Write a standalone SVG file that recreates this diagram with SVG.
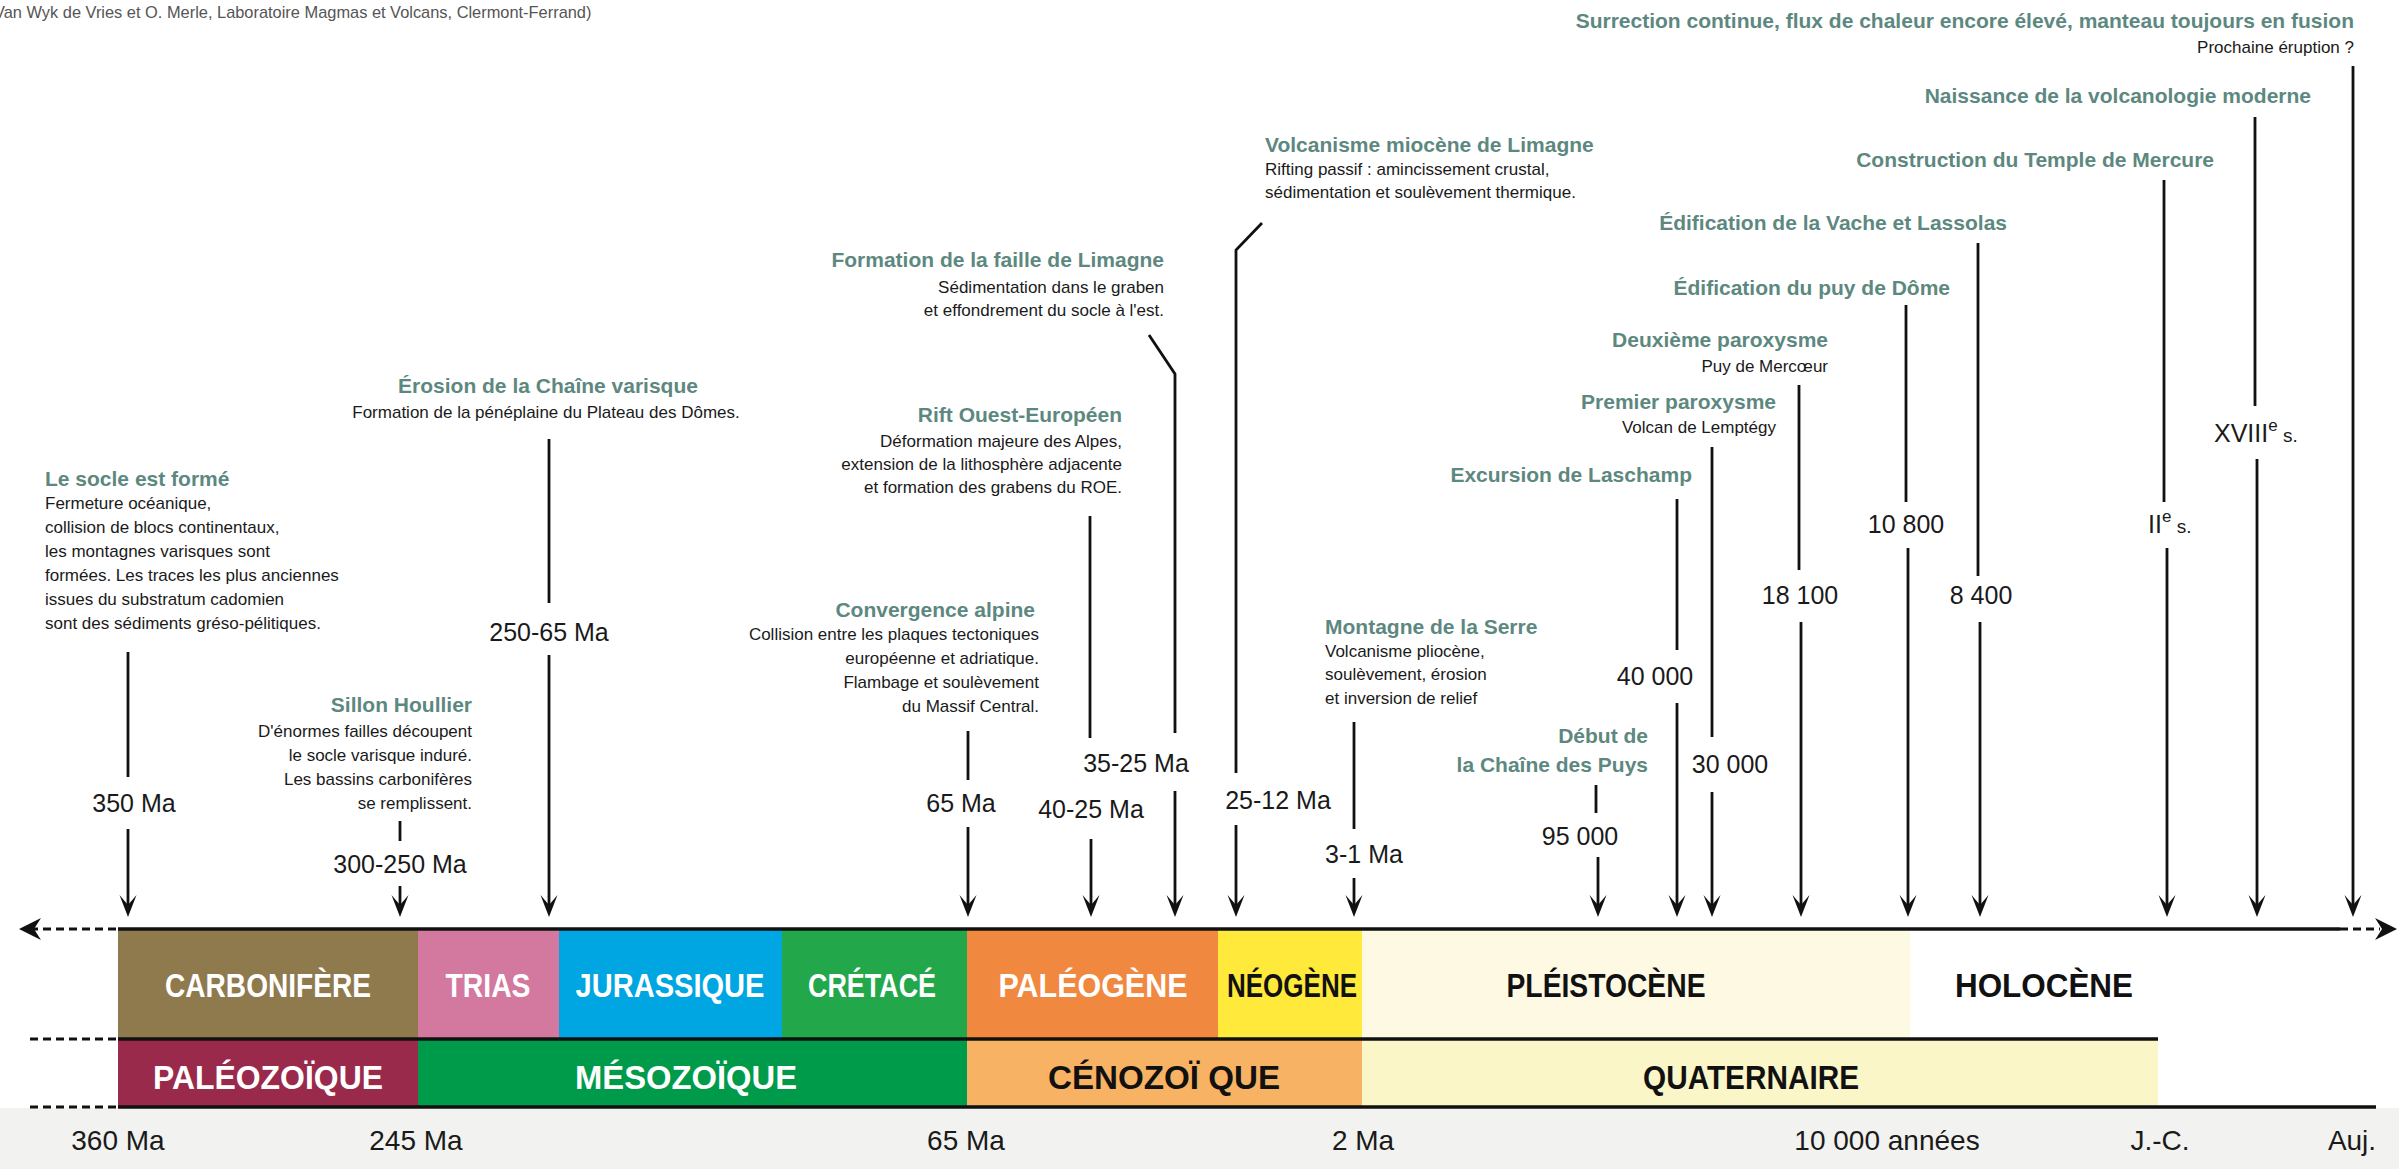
<svg xmlns="http://www.w3.org/2000/svg" width="2399" height="1169" viewBox="0 0 2399 1169">
<style>
text{font-family:"Liberation Sans",Arial,sans-serif}
.h{font-size:21px;font-weight:bold;fill:#5d887f}
.b{font-size:17px;fill:#1a1a1a}
.d{font-size:25px;fill:#1a1a1a;text-anchor:middle}
.r{text-anchor:end}
.m{text-anchor:middle}
.p{font-size:34px;font-weight:bold;text-anchor:middle}
.w{fill:#ffffff}
.k{fill:#111111}
.ax{font-size:28px;fill:#1a1a1a;text-anchor:middle}
.ln{stroke:#111;stroke-width:2.8;fill:none}
.dash{stroke:#111;stroke-width:3;stroke-dasharray:8 5;fill:none}
.sep{stroke:#111;stroke-width:3.5;fill:none}
.cr{font-size:16.4px;fill:#555}
</style>
<defs>
<marker id="ah" markerUnits="userSpaceOnUse" markerWidth="24" markerHeight="24" refX="17" refY="12" orient="auto">
<path d="M22,12 L0,3.5 L10,12 L0,20.5 Z" fill="#111"/>
</marker>
</defs>

<rect x="0" y="1108" width="2399" height="61" fill="#f2f2f0"/>
<text class="cr" x="-6" y="18">Van Wyk de Vries et O. Merle, Laboratoire Magmas et Volcans, Clermont-Ferrand)</text>

<g id="timeline">
<g id="periods">
<rect x="118" y="929" width="300" height="110" fill="#8f7a4e"/>
<rect x="418" y="929" width="141" height="110" fill="#d3789f"/>
<rect x="559" y="929" width="223" height="110" fill="#00a6e2"/>
<rect x="782" y="929" width="185" height="110" fill="#22a84b"/>
<rect x="967" y="929" width="251" height="110" fill="#f1883f"/>
<rect x="1218" y="929" width="144" height="110" fill="#ffe93b"/>
<rect x="1362" y="929" width="548" height="110" fill="#fdf9e3"/>
<text class="p w" x="268" y="997" textLength="206" lengthAdjust="spacingAndGlyphs">CARBONIFÈRE</text>
<text class="p w" x="488" y="997" textLength="85" lengthAdjust="spacingAndGlyphs">TRIAS</text>
<text class="p w" x="670" y="997" textLength="189" lengthAdjust="spacingAndGlyphs">JURASSIQUE</text>
<text class="p w" x="872" y="997" textLength="128" lengthAdjust="spacingAndGlyphs">CRÉTACÉ</text>
<text class="p w" x="1093" y="997" textLength="189" lengthAdjust="spacingAndGlyphs">PALÉOGÈNE</text>
<text class="p k" x="1292" y="997" textLength="130" lengthAdjust="spacingAndGlyphs">NÉOGÈNE</text>
<text class="p k" x="1606" y="997" textLength="199" lengthAdjust="spacingAndGlyphs">PLÉISTOCÈNE</text>
<text class="p k" x="2044" y="997" textLength="178" lengthAdjust="spacingAndGlyphs">HOLOCÈNE</text>
</g>
<g id="eras">
<rect x="118" y="1039" width="300" height="68" fill="#9a2a4b"/>
<rect x="418" y="1039" width="549" height="68" fill="#009b4a"/>
<rect x="967" y="1039" width="395" height="68" fill="#f7b263"/>
<rect x="1362" y="1039" width="796" height="68" fill="#fbf6c8"/>
<text class="p w" x="268" y="1089" textLength="230" lengthAdjust="spacingAndGlyphs">PALÉOZOÏQUE</text>
<text class="p w" x="686" y="1089" textLength="222" lengthAdjust="spacingAndGlyphs">MÉSOZOÏQUE</text>
<text class="p k" x="1164" y="1089" textLength="232" lengthAdjust="spacingAndGlyphs">CÉNOZOÏ QUE</text>
<text class="p k" x="1751" y="1089" textLength="216" lengthAdjust="spacingAndGlyphs">QUATERNAIRE</text>
</g>
<g id="axis">
<line class="sep" x1="118" y1="929" x2="2340" y2="929"/>
<line class="dash" x1="30" y1="929" x2="118" y2="929"/>
<line class="dash" x1="2340" y1="929" x2="2380" y2="929"/>
<path d="M19,929 L41,918 L34,929 L41,940 Z" fill="#111"/>
<path d="M2397,929 L2375,918 L2382,929 L2375,940 Z" fill="#111"/>
<line class="sep" x1="118" y1="1039" x2="2158" y2="1039"/>
<line class="sep" x1="118" y1="1107" x2="2376" y2="1107"/>
<line class="dash" x1="30" y1="1039" x2="118" y2="1039"/>
<line class="dash" x1="30" y1="1107" x2="118" y2="1107"/>
</g>
<g id="scale">
<text class="ax" x="118" y="1150">360 Ma</text>
<text class="ax" x="416" y="1150">245 Ma</text>
<text class="ax" x="966" y="1150">65 Ma</text>
<text class="ax" x="1363" y="1150">2 Ma</text>
<text class="ax" x="1887" y="1150">10 000 années</text>
<text class="ax" x="2160" y="1150">J.-C.</text>
<text class="ax" x="2352" y="1150">Auj.</text>
</g>
</g>

<g id="connectors">
<line class="ln" x1="128" y1="652" x2="128" y2="777"/>
<line class="ln" x1="128" y1="829" x2="128" y2="912" marker-end="url(#ah)"/>
<line class="ln" x1="400" y1="821" x2="400" y2="841"/>
<line class="ln" x1="400" y1="886" x2="400" y2="912" marker-end="url(#ah)"/>
<line class="ln" x1="549" y1="439" x2="549" y2="603"/>
<line class="ln" x1="549" y1="655" x2="549" y2="912" marker-end="url(#ah)"/>
<line class="ln" x1="968" y1="731" x2="968" y2="780"/>
<line class="ln" x1="968" y1="827" x2="968" y2="912" marker-end="url(#ah)"/>
<line class="ln" x1="1090" y1="516" x2="1090" y2="738"/>
<line class="ln" x1="1091" y1="839" x2="1091" y2="912" marker-end="url(#ah)"/>
<polyline class="ln" points="1149,335 1175,374 1175,733"/>
<line class="ln" x1="1175" y1="791" x2="1175" y2="912" marker-end="url(#ah)"/>
<polyline class="ln" points="1262,223 1236,250 1236,773"/>
<line class="ln" x1="1236" y1="825" x2="1236" y2="912" marker-end="url(#ah)"/>
<line class="ln" x1="1354" y1="722" x2="1354" y2="829"/>
<line class="ln" x1="1354" y1="878" x2="1354" y2="912" marker-end="url(#ah)"/>
<line class="ln" x1="1596" y1="785" x2="1596" y2="813"/>
<line class="ln" x1="1598" y1="857" x2="1598" y2="912" marker-end="url(#ah)"/>
<line class="ln" x1="1677" y1="499" x2="1677" y2="650"/>
<line class="ln" x1="1677" y1="703" x2="1677" y2="912" marker-end="url(#ah)"/>
<line class="ln" x1="1712" y1="447" x2="1712" y2="737"/>
<line class="ln" x1="1712" y1="792" x2="1712" y2="912" marker-end="url(#ah)"/>
<line class="ln" x1="1799" y1="385" x2="1799" y2="570"/>
<line class="ln" x1="1801" y1="622" x2="1801" y2="912" marker-end="url(#ah)"/>
<line class="ln" x1="1906" y1="305" x2="1906" y2="502"/>
<line class="ln" x1="1908" y1="548" x2="1908" y2="912" marker-end="url(#ah)"/>
<line class="ln" x1="1978" y1="243" x2="1978" y2="576"/>
<line class="ln" x1="1980" y1="622" x2="1980" y2="912" marker-end="url(#ah)"/>
<line class="ln" x1="2164" y1="180" x2="2164" y2="502"/>
<line class="ln" x1="2167" y1="548" x2="2167" y2="912" marker-end="url(#ah)"/>
<line class="ln" x1="2255" y1="117" x2="2255" y2="406"/>
<line class="ln" x1="2257" y1="459" x2="2257" y2="912" marker-end="url(#ah)"/>
<line class="ln" x1="2353" y1="66" x2="2353" y2="912" marker-end="url(#ah)"/>
</g>

<g id="socle">
<text class="h" x="45" y="486">Le socle est formé</text>
<text class="b" x="45" y="509">Fermeture océanique,</text>
<text class="b" x="45" y="533">collision de blocs continentaux,</text>
<text class="b" x="45" y="557">les montagnes varisques sont</text>
<text class="b" x="45" y="581">formées. Les traces les plus anciennes</text>
<text class="b" x="45" y="605">issues du substratum cadomien</text>
<text class="b" x="45" y="629">sont des sédiments gréso-pélitiques.</text>
<text class="d" x="134" y="812">350 Ma</text>
</g>

<g id="sillon">
<text class="h r" x="472" y="712">Sillon Houllier</text>
<text class="b r" x="472" y="737">D'énormes failles découpent</text>
<text class="b r" x="472" y="761">le socle varisque induré.</text>
<text class="b r" x="472" y="785">Les bassins carbonifères</text>
<text class="b r" x="472" y="809">se remplissent.</text>
<text class="d" x="400" y="873">300-250 Ma</text>
</g>

<g id="erosion">
<text class="h m" x="548" y="393">Érosion de la Chaîne varisque</text>
<text class="b m" x="546" y="418">Formation de la pénéplaine du Plateau des Dômes.</text>
<text class="d" x="549" y="641">250-65 Ma</text>
</g>

<g id="faille">
<text class="h r" x="1164" y="267">Formation de la faille de Limagne</text>
<text class="b r" x="1164" y="293">Sédimentation dans le graben</text>
<text class="b r" x="1164" y="316">et effondrement du socle à l'est.</text>
<text class="d" x="1136" y="772">35-25 Ma</text>
</g>

<g id="rift">
<text class="h r" x="1122" y="422">Rift Ouest-Européen</text>
<text class="b r" x="1122" y="447">Déformation majeure des Alpes,</text>
<text class="b r" x="1122" y="470">extension de la lithosphère adjacente</text>
<text class="b r" x="1122" y="493">et formation des grabens du ROE.</text>
<text class="d" x="1091" y="818">40-25 Ma</text>
</g>

<g id="convergence">
<text class="h r" x="1035" y="617">Convergence alpine</text>
<text class="b r" x="1039" y="640">Collision entre les plaques tectoniques</text>
<text class="b r" x="1039" y="664">européenne et adriatique.</text>
<text class="b r" x="1039" y="688">Flambage et soulèvement</text>
<text class="b r" x="1039" y="712">du Massif Central.</text>
<text class="d" x="961" y="812">65 Ma</text>
</g>

<g id="miocene">
<text class="h" x="1265" y="152">Volcanisme miocène de Limagne</text>
<text class="b" x="1265" y="175">Rifting passif : amincissement crustal,</text>
<text class="b" x="1265" y="198">sédimentation et soulèvement thermique.</text>
<text class="d" x="1278" y="809">25-12 Ma</text>
</g>

<g id="serre">
<text class="h" x="1325" y="634">Montagne de la Serre</text>
<text class="b" x="1325" y="657">Volcanisme pliocène,</text>
<text class="b" x="1325" y="680">soulèvement, érosion</text>
<text class="b" x="1325" y="704">et inversion de relief</text>
<text class="d" x="1364" y="863">3-1 Ma</text>
</g>

<g id="debut">
<text class="h r" x="1648" y="743">Début de</text>
<text class="h r" x="1648" y="772">la Chaîne des Puys</text>
<text class="d" x="1580" y="845">95 000</text>
</g>

<g id="laschamp">
<text class="h r" x="1692" y="482">Excursion de Laschamp</text>
<text class="d" x="1655" y="685">40 000</text>
</g>

<g id="lemptegy">
<text class="h r" x="1776" y="409">Premier paroxysme</text>
<text class="b r" x="1776" y="433">Volcan de Lemptégy</text>
<text class="d" x="1730" y="773">30 000</text>
</g>

<g id="mercoeur">
<text class="h r" x="1828" y="347">Deuxième paroxysme</text>
<text class="b r" x="1828" y="372">Puy de Mercœur</text>
<text class="d" x="1800" y="604">18 100</text>
</g>

<g id="dome">
<text class="h r" x="1950" y="295">Édification du puy de Dôme</text>
<text class="d" x="1906" y="533">10 800</text>
</g>

<g id="vache">
<text class="h r" x="2007" y="230">Édification de la Vache et Lassolas</text>
<text class="d" x="1981" y="604">8 400</text>
</g>

<g id="temple">
<text class="d" x="2148" y="533" style="text-anchor:start">II<tspan font-size="17" dy="-11">e</tspan><tspan font-size="19" dy="11"> s.</tspan></text>
<text class="h r" x="2214" y="167">Construction du Temple de Mercure</text>
</g>

<g id="naissance">
<text class="h r" x="2311" y="103">Naissance de la volcanologie moderne</text>
<text class="d" x="2214" y="442" style="text-anchor:start">XVIII<tspan font-size="17" dy="-11">e</tspan><tspan font-size="19" dy="11"> s.</tspan></text>
</g>

<g id="surrection">
<text class="h r" x="2354" y="28">Surrection continue, flux de chaleur encore élevé, manteau toujours en fusion</text>
<text class="b r" x="2354" y="53">Prochaine éruption ?</text>
</g>
</svg>
